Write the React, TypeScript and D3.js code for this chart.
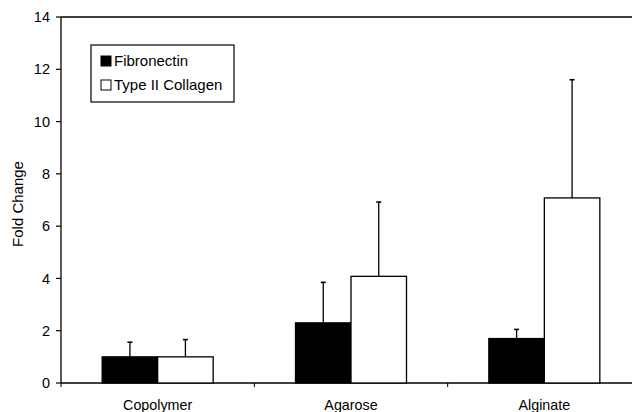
import React from 'react';
import * as d3 from 'd3';

const categories = ['Copolymer', 'Agarose', 'Alginate'];
const seriesNames = ['Fibronectin', 'Type II Collagen'];
const fibronectin = [1.0, 2.3, 1.7];
const fibronectinErr = [0.56, 1.55, 0.35];
const collagen = [1.0, 4.08, 7.08];
const collagenErr = [0.66, 2.84, 4.52];
const yTicks = [0, 2, 4, 6, 8, 10, 12, 14];

const W = 632;
const H = 412;
const left = 61;
const right = 641;
const top = 17;
const bottom = 383;
const barW = 55.5;
const font = 'Liberation Sans, Arial, sans-serif';

const x = d3.scaleBand<string>().domain(categories).range([left, right]).padding(0);
const y = d3.scaleLinear().domain([0, 14]).range([bottom, top]);
const colors = ['#000', '#fff'];

export default function App() {
  const bw = x.bandwidth();
  const xSub = d3.scaleBand<string>().domain(seriesNames).range([bw / 2 - barW, bw / 2 + barW]).padding(0);
  const values = [fibronectin, collagen];
  const errs = [fibronectinErr, collagenErr];

  return (
    <svg width={W} height={H} style={{ position: 'absolute', left: 0, top: 0, background: '#fff' }}>
      {/* frame */}
      <line x1={left} x2={W} y1={top} y2={top} stroke="#000" strokeWidth={1.3} />
      <line x1={left} x2={left} y1={top} y2={bottom} stroke="#000" strokeWidth={1.3} />
      <line x1={left} x2={W} y1={bottom} y2={bottom} stroke="#000" strokeWidth={1.3} />

      {yTicks.map(t => (
        <g key={t}>
          <line x1={left - 5} x2={left} y1={y(t)} y2={y(t)} stroke="#000" strokeWidth={1.2} />
          <text x={50} y={y(t)} dy="0.35em" textAnchor="end" fontFamily={font} fontSize={14.5}>{t}</text>
        </g>
      ))}
      <text transform={`translate(23,204) rotate(-90)`} textAnchor="middle"
        fontFamily={font} fontSize={15}>Fold Change</text>

      {categories.map(c => (
        <line key={'t' + c} x1={(x(c) as number)} x2={(x(c) as number)} y1={bottom} y2={bottom + 4} stroke="#000" strokeWidth={1} />
      ))}
      {categories.map(c => (
        <text key={'l' + c} x={(x(c) as number) + bw / 2} y={410} textAnchor="middle" fontFamily={font} fontSize={14.3}>{c}</text>
      ))}

      {categories.map((c, i) => (
        <g key={c} transform={`translate(${x(c)},0)`}>
          {seriesNames.map((s, j) => {
            const bx = xSub(s) as number;
            const v = values[j][i];
            const e = errs[j][i];
            const cx = bx + xSub.bandwidth() / 2;
            return (
              <g key={s}>
                <line x1={cx} x2={cx} y1={y(v)} y2={y(v + e)} stroke="#000" strokeWidth={1.3} />
                <line x1={cx - 2.5} x2={cx + 2.5} y1={y(v + e)} y2={y(v + e)} stroke="#000" strokeWidth={1.6} />
                <rect x={bx} y={y(v)} width={xSub.bandwidth()} height={bottom - y(v)}
                  fill={colors[j]} stroke="#000" strokeWidth={1.3} />
              </g>
            );
          })}
        </g>
      ))}

      {/* legend */}
      <rect x={91} y={45} width={143} height={57} fill="#fff" stroke="#000" strokeWidth={1.2} />
      {seriesNames.map((s, j) => (
        <g key={s} transform={`translate(101,${61 + j * 24})`}>
          <rect x={0} y={-5} width={10} height={10} fill={colors[j]} stroke="#000" strokeWidth={1} />
          <text x={13} y={0} dy="0.35em" fontFamily={font} fontSize={15}>{s}</text>
        </g>
      ))}
    </svg>
  );
}
